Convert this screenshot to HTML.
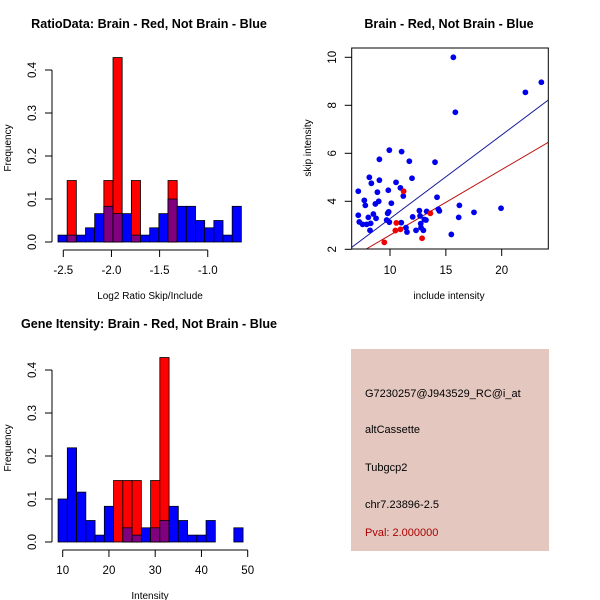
<!DOCTYPE html>
<html><head><meta charset="utf-8"><style>
html,body{margin:0;padding:0;background:#fff;}
svg{display:block;font-family:"Liberation Sans",sans-serif;}
</style></head><body>
<svg id="chart" width="600" height="600" viewBox="0 0 600 600" xmlns="http://www.w3.org/2000/svg">
<rect width="600" height="600" fill="#fff"/>
<g>
<rect x="351" y="349" width="198" height="202" fill="#e4c8c0"/>
<text x="365" y="397" font-size="11" fill="#000">G7230257@J943529_RC@i_at</text>
<text x="365" y="433" font-size="11" fill="#000">altCassette</text>
<text x="365" y="471" font-size="11" fill="#000">Tubgcp2</text>
<text x="365" y="508" font-size="11" fill="#000">chr7.23896-2.5</text>
<text x="365" y="536" font-size="11" fill="#aa0000">Pval: 2.000000</text>
</g>
</svg>
<script>
// ---- Histogram 1: ratio ----
const ratioBinStart = -2.555;
const ratioBinWidth = 0.0952;
const ratioBlue = [0.016,0.016,0.016,0.033,0.066,0.083,0.066,0.066,0.016,0.016,0.033,0.066,0.1,0.083,0.083,0.05,0.033,0.05,0.016,0.083];
const ratioRed  = [0,0.143,0,0,0,0.143,0.429,0,0.143,0,0,0,0.143,0,0,0,0,0,0,0];
const ratioXTicks = [-2.5,-2.0,-1.5,-1.0];
const ratioXLabels = ["-2.5","-2.0","-1.5","-1.0"];
const freqTicks = [0,0.1,0.2,0.3,0.4];
const freqLabels = ["0.0","0.1","0.2","0.3","0.4"];
// ---- Histogram 2: intensity ----
const intBinStart = 9;
const intBinWidth = 2;
const intBlue = [0.1,0.219,0.116,0.05,0.016,0.083,0,0.033,0.016,0.033,0.033,0.05,0.083,0.05,0.016,0.016,0.05,0,0,0.033];
const intRed  = [0,0,0,0,0,0,0.143,0.143,0.143,0,0.143,0.429,0,0,0,0,0,0,0,0];
const intXTicks = [10,20,30,40,50];
const intXLabels = ["10","20","30","40","50"];
// ---- Scatter ----
const blueX = [7.16,7.16,7.25,7.55,7.70,7.79,7.91,8.06,8.15,8.21,8.27,8.33,8.51,8.69,8.75,8.87,8.99,9.05,9.05,9.70,9.79,9.88,9.85,9.94,9.94,10.12,10.54,10.93,11.01,11.04,11.19,11.43,11.52,11.73,11.97,12.03,12.33,12.63,12.69,12.75,12.78,12.99,13.07,13.22,13.28,14.03,14.21,14.33,14.42,15.49,15.67,15.85,16.15,16.21,17.52,19.94,22.12,23.55];
const blueY = [4.42,3.42,3.14,3.04,4.04,3.83,3.04,3.33,5.0,2.79,3.08,4.75,3.47,3.89,3.29,4.38,4.0,4.88,5.75,3.22,3.5,3.56,4.46,6.13,3.13,3.92,4.79,4.56,3.11,6.07,4.22,2.90,2.72,5.67,4.96,3.35,2.79,3.61,3.39,3.07,2.90,2.79,3.24,3.22,3.58,5.63,4.17,3.67,3.6,2.62,10.0,7.71,3.33,3.83,3.54,3.71,8.54,8.96];
const redX = [9.49,10.48,10.57,10.93,11.22,12.87,13.61];
const redY = [2.29,2.78,3.10,2.83,4.42,2.46,3.5];
const blueFit = [-0.211,0.3487];
const redFit = [-0.136,0.2728];
const scXTicks = [10,15,20];
const scXLabels = ["10","15","20"];
const scYTicks = [2,4,6,8,10];
const scYLabels = ["2","4","6","8","10"];

const svg = document.getElementById('chart');
const NS = 'http://www.w3.org/2000/svg';
function mk(tag, attrs, parent){ const e=document.createElementNS(NS,tag); for(const k in attrs) e.setAttribute(k,attrs[k]); (parent||svg).appendChild(e); return e; }
function txt(x,y,s,size,opts,parent){ const t=mk('text',Object.assign({x:x,y:y,'font-size':size,'text-anchor':'middle',fill:'#000'},opts||{}),parent); t.textContent=s; return t; }

function histogram(name, oy, binStart, binW, xmin, xminPx, pxPerUnit, blue, red, xticks, xlabels, title, xtitle){
  const g = mk('g',{});
  
  
  const X = v => xminPx + (v - xmin) * pxPerUnit;
  const base = oy + 202, ppu = 430;
  const Y = v => base - v * ppu;
  for(let i=0;i<blue.length;i++){
    const x0=X(binStart+i*binW), x1=X(binStart+(i+1)*binW);
    const b=blue[i], r=red[i];
    if(b>0){ const e=mk('rect',{x:x0,y:Y(b),width:x1-x0,height:base-Y(b),fill:'#0000ff',stroke:'#000','stroke-width':0.8},g);
      
       }
    if(r>0){ const e=mk('rect',{x:x0,y:Y(r),width:x1-x0,height:base-Y(r),fill:'#ff0000',stroke:'#000','stroke-width':0.8},g);
      
      
      const m=Math.min(b,r);
      if(m>0){ const p=mk('rect',{x:x0,y:Y(m),width:x1-x0,height:base-Y(m),fill:'#800080',stroke:'#000','stroke-width':0.8},g);
        
         } }
  }
  mk('line',{x1:52,x2:52,y1:Y(0),y2:Y(0.4),stroke:'#000'},g);
  for(let i=0;i<freqTicks.length;i++){
    const y=Y(freqTicks[i]);
    mk('line',{x1:45,x2:52,y1:y,y2:y,stroke:'#000'},g);
    const t=txt(36,y,freqLabels[i],11.5,{transform:`rotate(-90 36 ${y})`},g);
    
    
  }
  const ay = oy + 210;
  mk('line',{x1:X(xticks[0]),x2:X(xticks[xticks.length-1]),y1:ay,y2:ay,stroke:'#000'},g);
  for(let i=0;i<xticks.length;i++){
    const x=X(xticks[i]);
    mk('line',{x1:x,x2:x,y1:ay,y2:ay+7,stroke:'#000'},g);
    const t=txt(x,oy+234,xlabels[i],11.5,{},g);
    
    
  }
  const tt=txt(149,oy-12,title,12.6,{'font-weight':'bold'},g);
  
  
  const xt=txt(150,oy+259,xtitle,10,{},g);
  
  
  const yt=txt(11,oy+108,'Frequency',10,{transform:`rotate(-90 11 ${oy+108})`},g);
  
  
}
histogram('ratio-histogram',40,ratioBinStart,ratioBinWidth,-2.5,63.3,96.3,ratioBlue,ratioRed,ratioXTicks,ratioXLabels,'RatioData: Brain - Red, Not Brain - Blue','Log2 Ratio Skip/Include');
histogram('intensity-histogram',340,intBinStart,intBinWidth,10,62.7,4.625,intBlue,intRed,intXTicks,intXLabels,'Gene Itensity: Brain - Red, Not Brain - Blue','Intensity');

(function(){
  const g=mk('g',{});
  
  
  const X = v => 390 + (v-10)*11.17;
  const Y = v => 249.3 - (v-2)*24;
  const L=351.7,R=548.3,T=48,B=249;
  const clip=mk('clipPath',{id:'scclip'},g); mk('rect',{x:L,y:T,width:R-L,height:B-T},clip);
  const lg=mk('g',{'clip-path':'url(#scclip)'},g);
  const xa=6.4, xb=24.5;
  const bl=mk('line',{x1:X(xa),y1:Y(blueFit[0]+blueFit[1]*xa),x2:X(xb),y2:Y(blueFit[0]+blueFit[1]*xb),stroke:'#1a1aa0','stroke-width':1},lg);
  
  
  const rl=mk('line',{x1:X(xa),y1:Y(redFit[0]+redFit[1]*xa),x2:X(xb),y2:Y(redFit[0]+redFit[1]*xb),stroke:'#c01010','stroke-width':1},lg);
  
  
  for(let i=0;i<blueX.length;i++){
    const c=mk('circle',{cx:X(blueX[i]),cy:Y(blueY[i]),r:2.9,fill:'#0000ee'},g);
    
    
  }
  for(let i=0;i<redX.length;i++){
    const c=mk('circle',{cx:X(redX[i]),cy:Y(redY[i]),r:2.9,fill:'#ee0000'},g);
    
    
  }
  mk('rect',{x:L,y:T,width:R-L,height:B-T,fill:'none',stroke:'#000'},g);
  for(let i=0;i<scXTicks.length;i++){
    const x=X(scXTicks[i]);
    mk('line',{x1:x,x2:x,y1:B,y2:B+7,stroke:'#000'},g);
    const t=txt(x,274,scXLabels[i],11.5,{},g);
    
    
  }
  for(let i=0;i<scYTicks.length;i++){
    const y=Y(scYTicks[i]);
    mk('line',{x1:L-7,x2:L,y1:y,y2:y,stroke:'#000'},g);
    const t=txt(336,y,scYLabels[i],11.5,{transform:`rotate(-90 336 ${y})`},g);
    
    
  }
  const tt=txt(449,28,'Brain - Red, Not Brain - Blue',12.6,{'font-weight':'bold'},g);
  
  
  const xt=txt(449,299,'include intensity',10,{},g);
  
  
  const yt=txt(311,148,'skip intensity',10,{transform:'rotate(-90 311 148)'},g);
  
  
})();
</script>
</body></html>
